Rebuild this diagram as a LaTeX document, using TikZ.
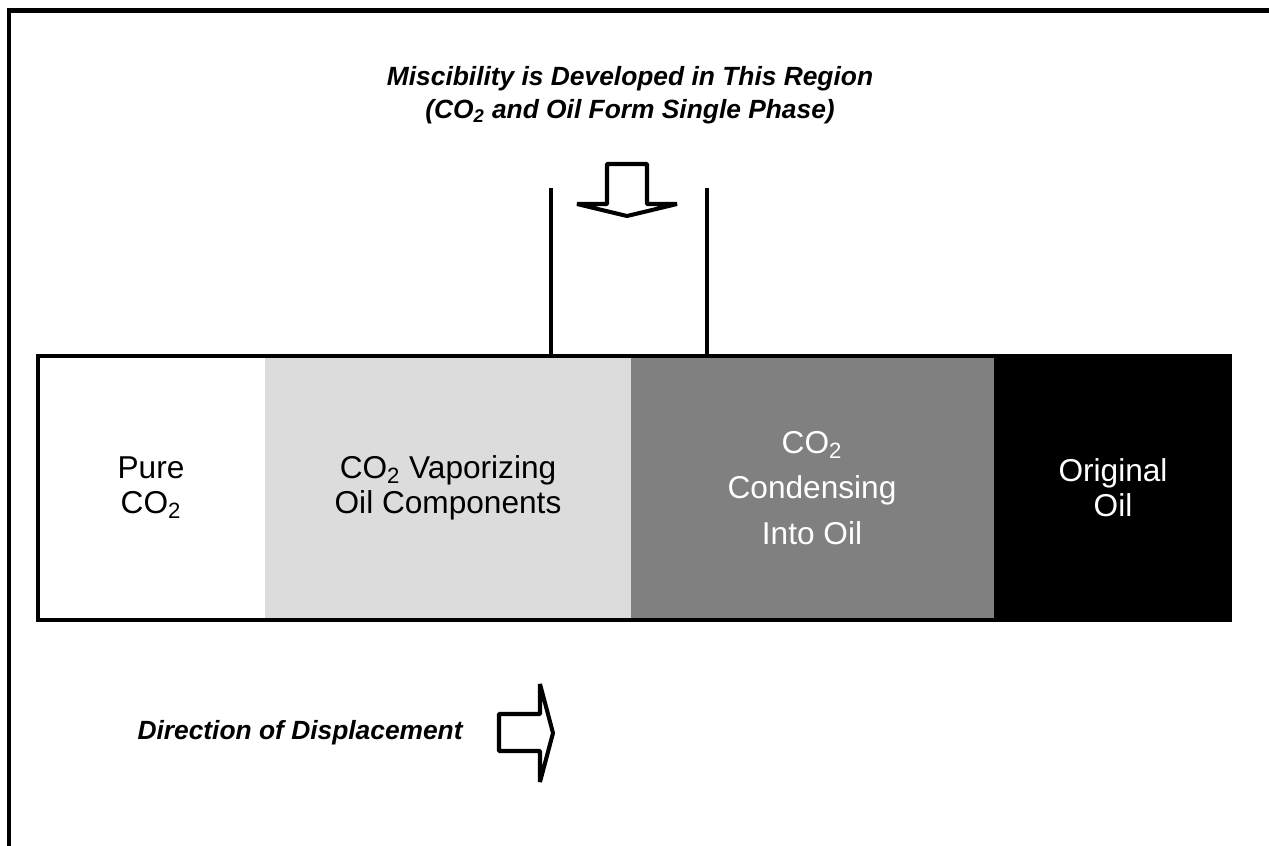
\documentclass[tikz,border=0pt]{standalone}
\usepackage{fontspec}
\setmainfont{Liberation Sans}
\usetikzlibrary{positioning}
\definecolor{zonelight}{HTML}{DCDCDC}
\definecolor{zonemid}  {HTML}{808080}
\definecolor{zonedark} {HTML}{000000}

\begin{document}
\begin{tikzpicture}[
  x=0.02cm, y=-0.02cm,
  every node/.style={font=\fontsize{18}{20}\selectfont, inner sep=0pt, align=center},
  frame/.style={line width=2.6pt, line cap=rect},
  bar/.style={line width=2.3pt},
  hollow/.style={line width=2.3pt, line join=bevel, fill=white},
  note/.style={font=\fontsize{15}{19}\selectfont\bfseries\itshape},
  dark/.style={text=white},
]
\useasboundingbox (0,0) rectangle (1269,846);

% -- Page frame (top and left only) -------------
\draw[frame] (9,846) -- (9,10.5) -- (1269,10.5);

% -- Zones of the displacement bar ---------------
\fill[white]     (38,356)  rectangle (265,620);
\fill[zonelight] (265,356) rectangle (631,620);
\fill[zonemid]   (631,356) rectangle (994,620);
\fill[zonedark]  (994,356) rectangle (1230,620);
\draw[bar] (38,356) rectangle (1230,620);

% -- Zone labels ---------------------------------
\node        (pure) at (151,488)  {Pure\\CO\textsubscript{2}};
\node        (vap)  at (448,488)  {CO\textsubscript{2} Vaporizing\\Oil Components};
\node[dark, font=\fontsize{18}{26}\selectfont]
             (cond) at (812,488)  {CO\textsubscript{2}\\Condensing\\Into Oil};
\node[dark]  (orig) at (1113,488) {Original\\Oil};

% -- Miscible region marker ----------------------
\node[note] (misc) at (630,95)
  {Miscibility is Developed in This Region\\(CO\textsubscript{2} and Oil Form Single Phase)};
\draw[bar] (551,188) -- (551,355);
\draw[bar] (707,188) -- (707,355);
\draw[hollow] (607,164) -- (647,164) -- (647,204) -- (677,204)
  -- (627,216) -- (577,204) -- (607,204) -- cycle;

% -- Direction of displacement -------------------
\node[note, anchor=east] (dir) at (463,733) {Direction of Displacement};
\draw[hollow] (499,714) -- (540,714) -- (540,684) -- (553,733)
  -- (540,782) -- (540,751) -- (499,751) -- cycle;

\end{tikzpicture}
\end{document}
